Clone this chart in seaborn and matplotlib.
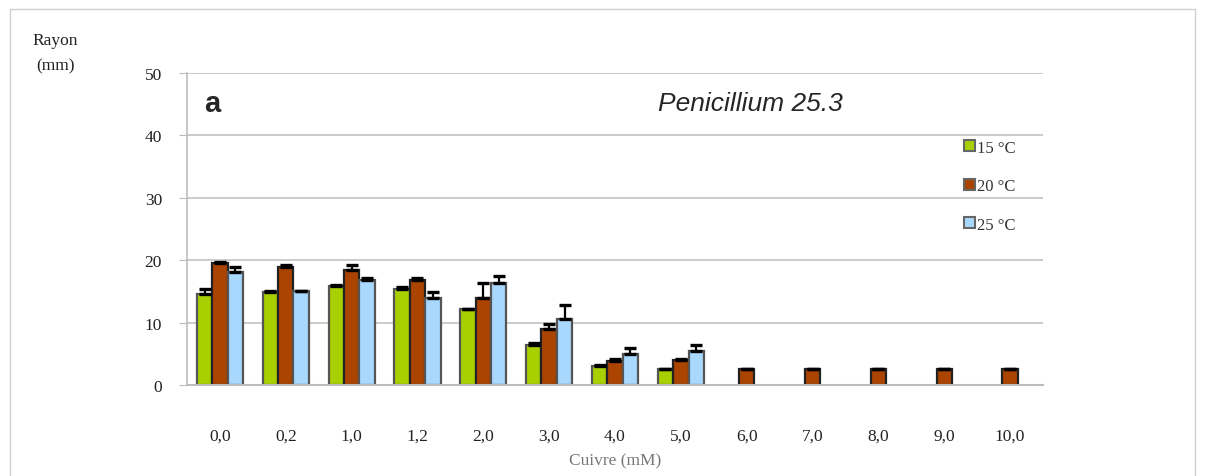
import matplotlib
matplotlib.use('Agg')
import matplotlib.pyplot as plt
from matplotlib.patches import Patch
from matplotlib.lines import Line2D
import numpy as np
import pandas as pd
import seaborn as sns

# data (radius in mm, NaN = no bar)
copper = ['0,0', '0,2', '1,0', '1,2', '2,0', '3,0', '4,0', '5,0',
          '6,0', '7,0', '8,0', '9,0', '10,0']
temps = ['15 °C', '20 °C', '25 °C']
r15 = [14.6, 14.9, 15.9, 15.4, 12.1, 6.4, 3.0, 2.5,
       np.nan, np.nan, np.nan, np.nan, np.nan]
r20 = [19.5, 18.9, 18.5, 16.9, 13.9, 9.0, 3.9, 4.0, 2.5, 2.5, 2.5, 2.5, 2.5]
r25 = [18.1, 15.0, 16.9, 14.0, 16.3, 10.6, 4.9, 5.4,
       np.nan, np.nan, np.nan, np.nan, np.nan]
e15 = [0.8, 0.2, 0.2, 0.3, 0.0, 0.3, 0.2, 0.0, 0, 0, 0, 0, 0]
e20 = [0.2, 0.3, 0.8, 0.2, 2.4, 0.8, 0.3, 0.1, 0, 0, 0, 0, 0]
e25 = [0.8, 0.1, 0.2, 0.9, 1.2, 2.2, 1.1, 1.0, 0, 0, 0, 0, 0]
colors = ['#a8d000', '#ab4400', '#a9d8ff']
edges = ['#555555', '#222222', '#555555']

rows = []
for t, vals, errs in zip(temps, [r15, r20, r25], [e15, e20, e25]):
    for c, v, e in zip(copper, vals, errs):
        if not np.isnan(v):
            rows.append({'Cuivre': c, 'Temp': t, 'Rayon': v, 'err': e})
df = pd.DataFrame(rows)

sns.set_style('white')
plt.rcParams['font.family'] = ['Liberation Serif', 'DejaVu Serif']

fig = plt.figure(figsize=(12.08, 4.77), dpi=100)
ax = fig.add_axes([0.1548, 0.1908, 0.7086, 0.654])

sns.barplot(data=df, x='Cuivre', y='Rayon', hue='Temp', order=copper,
            hue_order=temps, palette=colors, saturation=1, width=0.7,
            errorbar=None, linewidth=1.6, edgecolor='#555555', legend=False,
            ax=ax)

bar_containers = list(ax.containers)
for k, cont in enumerate(bar_containers):
    sub = df[df['Temp'] == temps[k]]
    errmap = dict(zip(sub['Cuivre'], sub['err']))
    xs, ys, es = [], [], []
    for bar in cont:
        bar.set_edgecolor(edges[k])
        xc = bar.get_x() + bar.get_width() / 2
        idx = int(round(xc))
        xs.append(xc)
        ys.append(bar.get_height())
        es.append(errmap.get(copper[idx], 0))
    ax.errorbar(xs, ys, yerr=[np.zeros(len(es)), es], fmt='none',
                ecolor='black', elinewidth=1.6, capsize=4.5, capthick=2.4,
                zorder=5)

ax.set_ylim(0, 50)
ax.set_yticks([0, 10, 20, 30, 40, 50])
ax.set_xlim(-0.5, len(copper) - 0.5)
ax.yaxis.grid(True, color='#c2c2c2', linewidth=1.2)
ax.set_axisbelow(True)
for s in ['top', 'right']:
    ax.spines[s].set_visible(False)
ax.spines['left'].set_color('#bdbdbd')
ax.spines['bottom'].set_color('#bdbdbd')
ax.spines['left'].set_linewidth(1.2)
ax.spines['bottom'].set_linewidth(1.5)

ax.set_xticks(np.arange(-0.5, len(copper), 1), minor=True)
ax.tick_params(axis='x', which='major', length=0, pad=31, labelsize=12.5,
               colors='#222222')
ax.tick_params(axis='x', which='minor', length=5, color='#bdbdbd', width=1.2)
ax.tick_params(axis='y', which='major', left=True, length=6, pad=12,
               labelsize=12.5, color='#bdbdbd', labelcolor='#222222')
ax.set_xlabel('Cuivre (mM)', fontsize=12.5, color='#777777', labelpad=6)
ax.set_ylabel('')

ax.text(0.02, 0.905, 'a', transform=ax.transAxes, fontsize=21,
        fontweight='bold', family='Liberation Sans', va='center')
ax.text(0.658, 0.905, 'Penicillium 25.3', transform=ax.transAxes,
        fontsize=19, style='italic', family='Liberation Sans',
        ha='center', va='center')

handles = [Patch(facecolor=c, edgecolor='#666666', linewidth=1.5)
           for c in colors]
ax.legend(handles, temps, loc='upper left', bbox_to_anchor=(0.89, 0.835),
          frameon=False, fontsize=12, handlelength=0.65, handleheight=0.65,
          handletextpad=0.15, labelspacing=1.35, labelcolor='#333333')

fig.text(0.046, 0.93, 'Rayon\n(mm)', ha='center', va='top', fontsize=12.5,
         color='#222222', linespacing=1.75)

# light frame around the figure
for xs_, ys_ in [([0.0083, 0.0083], [0.0, 0.979]),
                 ([0.0083, 0.9892], [0.979, 0.979]),
                 ([0.9892, 0.9892], [0.0, 0.979])]:
    fig.add_artist(Line2D(xs_, ys_, transform=fig.transFigure,
                          color='#d0d0d0', linewidth=1.0))

fig.savefig('out.png', dpi=100)
